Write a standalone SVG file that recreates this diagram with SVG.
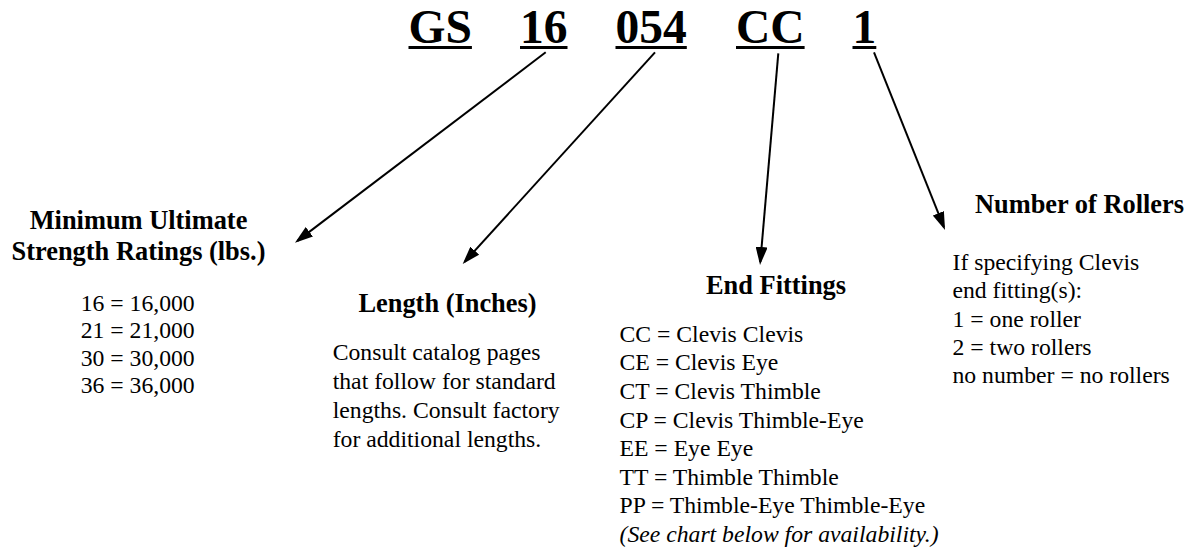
<svg xmlns="http://www.w3.org/2000/svg" width="1190" height="552" viewBox="0 0 1190 552">
<style>
.code{font-size:47.5px;font-weight:bold}
.head{font-size:26.4px;font-weight:bold;text-anchor:middle}
.body{font-size:23.7px}
.ul{fill:#000}
.conn{stroke:#000;stroke-width:2;fill:none;marker-end:url(#ah)}
</style>
<defs>
<marker id="ah" markerUnits="userSpaceOnUse" markerWidth="18" markerHeight="12" refX="15" refY="6" orient="auto">
<path d="M0,0 L18,6 L0,12 z" fill="#000"/>
</marker>
</defs>
<rect width="1190" height="552" fill="#fff"/>
<g font-family="Liberation Serif, 'Times New Roman', serif" fill="#000">
<g id="code">
<text class="code" x="408.5" y="43">GS</text>
<rect class="ul" x="408.5" y="46" width="63.4" height="3"/>
<text class="code" x="520" y="43">16</text>
<rect class="ul" x="520" y="46" width="47.5" height="3"/>
<text class="code" x="615.5" y="43">054</text>
<rect class="ul" x="615.5" y="46" width="71.3" height="3"/>
<text class="code" x="736" y="43">CC</text>
<rect class="ul" x="736" y="46" width="68.6" height="3"/>
<text class="code" x="852.5" y="43">1</text>
<rect class="ul" x="852.5" y="46" width="23.8" height="3"/>
</g>
<g id="strength">
<text class="head" x="138.5" y="229">Minimum Ultimate</text>
<text class="head" x="138.5" y="260">Strength Ratings (lbs.)</text>
<text class="body" x="80.7" y="310.5">16 = 16,000</text>
<text class="body" x="80.7" y="338">21 = 21,000</text>
<text class="body" x="80.7" y="365.5">30 = 30,000</text>
<text class="body" x="80.7" y="393">36 = 36,000</text>
</g>
<g id="length">
<text class="head" x="447.5" y="312">Length (Inches)</text>
<text class="body" x="332.7" y="360">Consult catalog pages</text>
<text class="body" x="332.7" y="389">that follow for standard</text>
<text class="body" x="332.7" y="418">lengths. Consult factory</text>
<text class="body" x="332.7" y="447">for additional lengths.</text>
</g>
<g id="endfittings">
<text class="head" x="776" y="294">End Fittings</text>
<text class="body" x="619.5" y="341.7">CC = Clevis Clevis</text>
<text class="body" x="619.5" y="370.3">CE = Clevis Eye</text>
<text class="body" x="619.5" y="398.9">CT = Clevis Thimble</text>
<text class="body" x="619.5" y="427.5">CP = Clevis Thimble-Eye</text>
<text class="body" x="619.5" y="456.1">EE = Eye Eye</text>
<text class="body" x="619.5" y="484.7">TT = Thimble Thimble</text>
<text class="body" x="619.5" y="513.3">PP = Thimble-Eye Thimble-Eye</text>
<text class="body" x="619.5" y="541.9" font-style="italic">(See chart below for availability.)</text>
</g>
<g id="rollers">
<text class="head" x="1079.5" y="212.5">Number of Rollers</text>
<text class="body" x="952.5" y="270">If specifying Clevis</text>
<text class="body" x="952.5" y="298.3">end fitting(s):</text>
<text class="body" x="952.5" y="326.6">1 = one roller</text>
<text class="body" x="952.5" y="354.9">2 = two rollers</text>
<text class="body" x="952.5" y="383.2">no number = no rollers</text>
</g>
</g>
<g id="connectors">
<line class="conn" x1="545.7" y1="52.3" x2="297.4" y2="240.9"/>
<line class="conn" x1="655" y1="52.3" x2="464.7" y2="261.8"/>
<line class="conn" x1="778.3" y1="53.3" x2="760.3" y2="262"/>
<line class="conn" x1="874" y1="52.3" x2="943.9" y2="227.2"/>
</g>
</svg>
